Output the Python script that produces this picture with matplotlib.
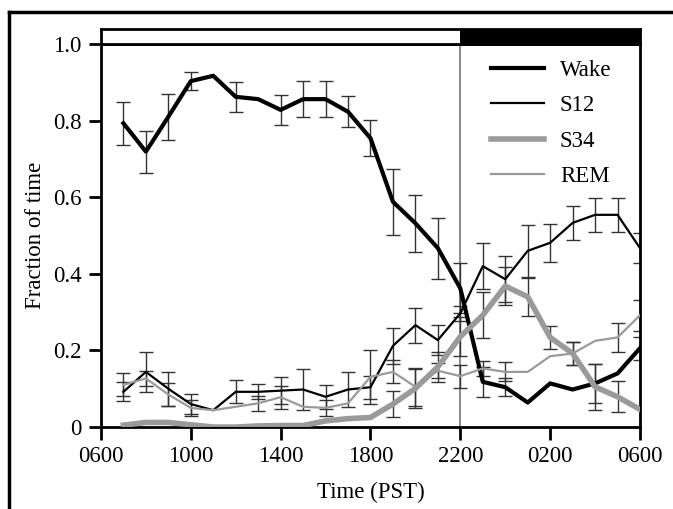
import numpy as np
import matplotlib
matplotlib.use("Agg")
import matplotlib.pyplot as plt
from matplotlib import font_manager
from matplotlib.lines import Line2D
from matplotlib.patches import Rectangle

# make sure a Times-like serif is picked up
serif = 'DejaVu Serif'
for f in font_manager.findSystemFonts():
    if 'LiberationSerif-Regular' in f:
        font_manager.fontManager.addfont(f)
        serif = font_manager.FontProperties(fname=f).get_name()
        break
plt.rcParams['font.family'] = [serif, 'DejaVu Serif']

# hours since midnight of day 1 (0700 ... 0600 next day)
hours = np.arange(7, 31)

wake = [0.793, 0.719, 0.81, 0.903, 0.917, 0.862, 0.856, 0.828, 0.856, 0.856, 0.823, 0.754,
        0.588, 0.532, 0.467, 0.362, 0.118, 0.104, 0.064, 0.114, 0.098, 0.114, 0.140, 0.206]
wake_se = [0.056, 0.055, 0.06, 0.023, 0.0, 0.04, 0.0, 0.04, 0.047, 0.047, 0.04, 0.047,
           0.086, 0.074, 0.08, 0.065, 0.04, 0.023, 0.0, 0.0, 0.0, 0.05, 0.0, 0.03]

s12 = [0.092, 0.144, 0.10, 0.06, 0.044, 0.092, 0.092, 0.095, 0.098, 0.079, 0.098, 0.104,
       0.212, 0.266, 0.227, 0.297, 0.420, 0.386, 0.460, 0.481, 0.533, 0.554, 0.554, 0.467]
s12_se = [0.025, 0.053, 0.044, 0.025, 0.0, 0.03, 0.02, 0.036, 0.053, 0.032, 0.046, 0.03,
          0.047, 0.046, 0.04, 0.02, 0.06, 0.06, 0.067, 0.05, 0.045, 0.045, 0.045, 0.04]

s34 = [0.005, 0.012, 0.012, 0.006, 0.0, 0.0, 0.003, 0.004, 0.004, 0.016, 0.022, 0.025,
       0.06, 0.101, 0.157, 0.236, 0.292, 0.368, 0.340, 0.234, 0.192, 0.105, 0.079, 0.046]
s34_se = [0.0, 0.0, 0.0, 0.0, 0.0, 0.0, 0.0, 0.0, 0.0, 0.0, 0.0, 0.0,
          0.035, 0.05, 0.04, 0.05, 0.06, 0.05, 0.05, 0.03, 0.03, 0.06, 0.04, 0.0]

rem = [0.11, 0.127, 0.085, 0.05, 0.044, 0.053, 0.062, 0.078, 0.053, 0.05, 0.062, 0.131,
       0.144, 0.105, 0.147, 0.133, 0.153, 0.144, 0.144, 0.185, 0.192, 0.225, 0.234, 0.292]
rem_se = [0.03, 0.02, 0.03, 0.02, 0.0, 0.0, 0.02, 0.03, 0.0, 0.02, 0.0, 0.07,
          0.03, 0.05, 0.02, 0.03, 0.02, 0.025, 0.0, 0.0, 0.03, 0.0, 0.037, 0.04]

xticks = [6, 10, 14, 18, 22, 26, 30]
xlabels = ['0600', '1000', '1400', '1800', '2200', '0200', '0600']
lights_off = 22

fig = plt.figure(figsize=(6.73, 5.09), dpi=100)
ax = fig.add_axes([0.150, 0.161, 0.801, 0.7526])

series = [
    (wake, wake_se, 'Wake', 'black', 3.0),
    (s12, s12_se, 'S12', 'black', 1.6),
    (s34, s34_se, 'S34', '#9a9a9a', 4.0),
    (rem, rem_se, 'REM', '#9a9a9a', 1.6),
]

# error bars first, lines on top
for y, se, name, col, lw in series:
    se = np.array(se)
    m = se > 0
    ax.errorbar(hours[m], np.array(y)[m], yerr=se[m], fmt='none', ecolor='#333333',
                elinewidth=1.0, capsize=5, capthick=1.0, zorder=2)

for y, se, name, col, lw in series:
    ax.plot(hours, y, color=col, lw=lw, label=name, zorder=3)

ax.axvline(lights_off, color='#777777', lw=1.2, zorder=1)

ax.set_xlim(6, 30)
ax.set_ylim(0, 1.0)
ax.set_xticks(xticks)
ax.set_xticklabels(xlabels)
ax.set_yticks([0, 0.2, 0.4, 0.6, 0.8, 1.0])
ax.set_yticklabels(['0', '0.2', '0.4', '0.6', '0.8', '1.0'])
ax.tick_params(direction='out', length=9, width=2, labelsize=16.5, pad=5)
for s in ax.spines.values():
    s.set_linewidth(2)
ax.set_xlabel('Time (PST)', fontsize=16.5, labelpad=10)
ax.set_ylabel('Fraction of time', fontsize=16.5, labelpad=5)

ax.legend(loc='upper right', frameon=False, fontsize=16.5, handlelength=2.3,
          handletextpad=0.7, labelspacing=0.62, bbox_to_anchor=(0.985, 1.012))

# light/dark bar
bar = fig.add_axes([0.150, 0.9136, 0.801, 0.0295])
bar.set_xlim(6, 30)
bar.set_ylim(0, 1)
bar.add_patch(Rectangle((6, 0), lights_off - 6, 1, facecolor='white', edgecolor='none'))
bar.add_patch(Rectangle((lights_off, 0), 30 - lights_off, 1, facecolor='black', edgecolor='none'))
bar.set_xticks([])
bar.set_yticks([])
for s in bar.spines.values():
    s.set_linewidth(2)

# figure frame (left and top edges)
fig.add_artist(Line2D([0.0134, 0.0134], [0.0, 0.976], color='black', lw=2.5))
fig.add_artist(Line2D([0.0134, 1.0], [0.976, 0.976], color='black', lw=2.5))

fig.savefig('out.png', dpi=100)
